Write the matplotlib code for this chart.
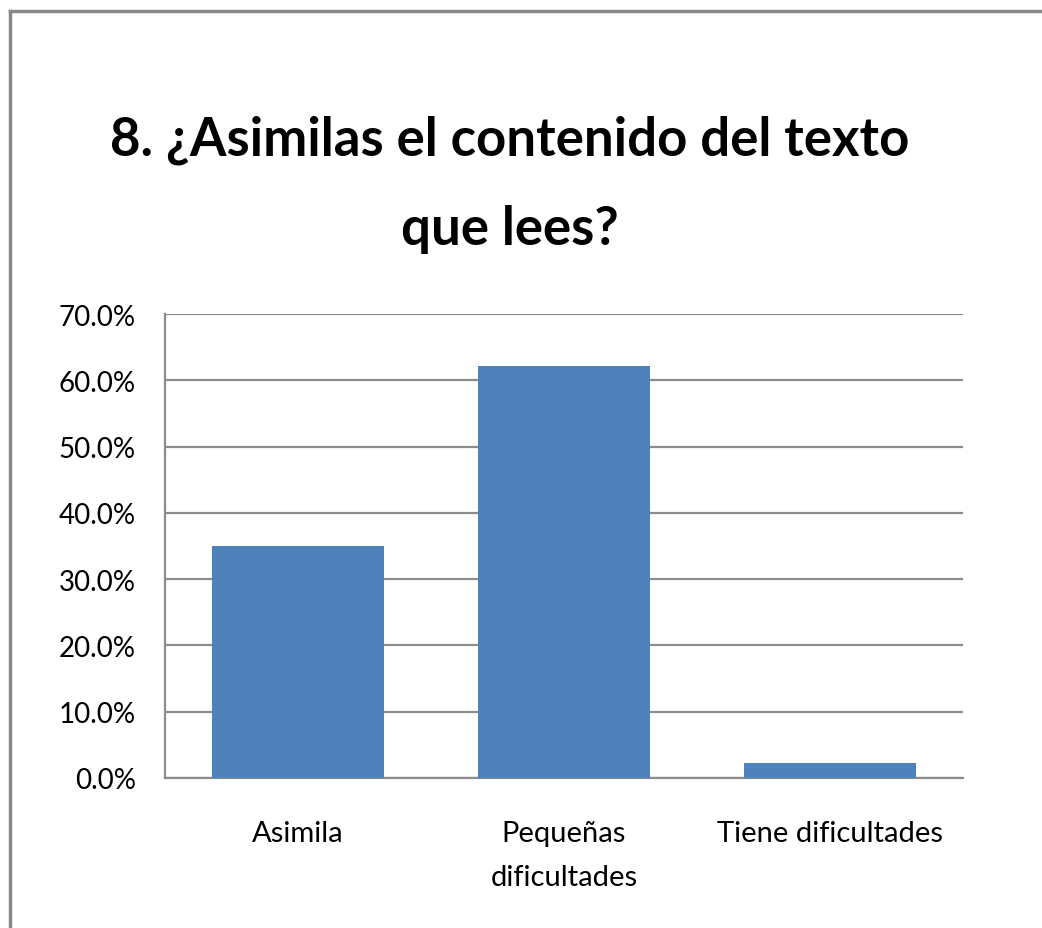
import matplotlib
matplotlib.use('Agg')
from matplotlib import pyplot as plt
from matplotlib.lines import Line2D
from matplotlib.ticker import FuncFormatter

categories = ['Asimila', 'Pequeñas\ndificultades', 'Tiene dificultades']
values = [35.0, 62.2, 2.2]
yticks = [0, 10, 20, 30, 40, 50, 60, 70]
title = '8. ¿Asimilas el contenido del texto\nque lees?'

plt.rcParams['font.family'] = ['Lato', 'DejaVu Sans']

fig = plt.figure(figsize=(10.42, 9.29), dpi=100)
ax = fig.add_axes([165 / 1042, 1 - 779 / 929, 798 / 1042, 464 / 929])

x = range(len(categories))
ax.bar(x, values, width=0.645, color='#4f81bd', zorder=3)
ax.set_xlim(-0.5, len(categories) - 0.5)
ax.set_ylim(0, 70)
ax.set_yticks(yticks)
ax.yaxis.set_major_formatter(FuncFormatter(lambda v, p: f'{v:.1f}%'))
ax.set_xticks(list(x))
ax.set_xticklabels(categories, fontsize=21, linespacing=1.85)
ax.tick_params(axis='y', labelsize=20, length=0, pad=21)
ax.tick_params(axis='x', length=0, pad=30)
ax.grid(axis='y', color='#8c8c8c', linewidth=1.6, zorder=0)
for side in ['top', 'right']:
    ax.spines[side].set_visible(False)
for side in ['left', 'bottom']:
    ax.spines[side].set_color('#8c8c8c')
    ax.spines[side].set_linewidth(1.6)

fig.text(510 / 1042, 1 - 185 / 929, title, ha='center', va='center',
         fontsize=38, fontweight='bold', linespacing=2.0)

# outer chart frame (cut off at right and bottom)
fig.add_artist(Line2D([10 / 1042, 10 / 1042], [0, 1 - 12 / 929], color='#888888', lw=2.5))
fig.add_artist(Line2D([10 / 1042, 1], [1 - 12 / 929, 1 - 12 / 929], color='#888888', lw=2.5))

fig.savefig('out.png', dpi=100)
